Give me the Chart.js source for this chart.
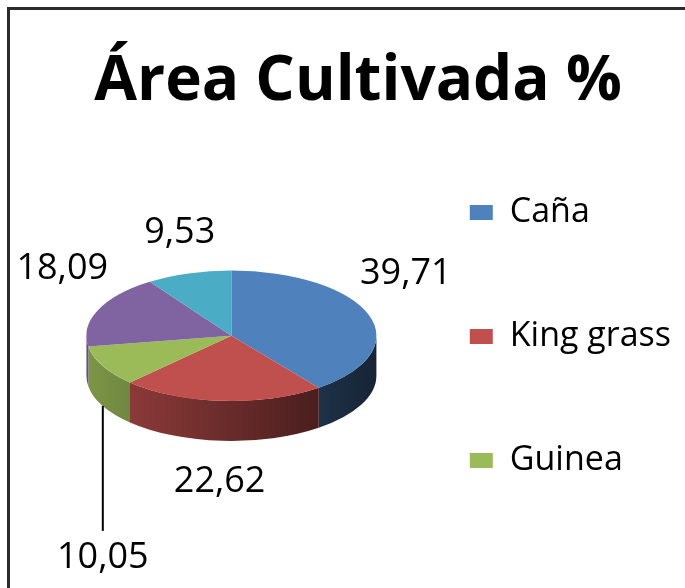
<!DOCTYPE html>
<html>
<head>
<meta charset="utf-8">
<script src="https://cdn.jsdelivr.net/npm/chart.js@4.4.1/dist/chart.umd.min.js"></script>
<style>
  html, body { margin: 0; padding: 0; background: #fff; overflow: hidden; }
  #frame { position: absolute; left: 7px; top: 7px; width: 700px; height: 600px; border: 3px solid #2b2b2b; }
  canvas { display: block; }
</style>
</head>
<body>
<div id="frame"><canvas id="myChart" width="700" height="600"></canvas></div>
<script>
const categories = ["Caña", "King grass", "Guinea", "Estrella", "Otros"];
const areaPct = [39.71, 22.62, 10.05, 18.09, 9.53];
const sliceColors = ["#4F81BD", "#C0504D", "#9BBB59", "#8064A2", "#4BACC6"];

// the legend in the original only has room for the first three entries
const legendShown = 3;

const fmt = (v) => v.toFixed(2).replace(".", ",");

const shade = (hex, f) => {
  const n = parseInt(hex.slice(1), 16);
  const r = Math.round(((n >> 16) & 255) * f);
  const g = Math.round(((n >> 8) & 255) * f);
  const b = Math.round((n & 255) * f);
  return `rgb(${r}, ${g}, ${b})`;
};

// squashes the pie into a tilted disc and draws the side wall + value labels
const pie3d = {
  id: "pie3d",
  geom(chart, opts) {
    const arcs = chart.getDatasetMeta(0).data;
    if (!arcs.length) return null;
    const { x, y, outerRadius } = arcs[0];
    return {
      arcs, x, y,
      cx: x + opts.shiftX,
      cy: y + opts.shiftY,
      rx: outerRadius,
      ry: outerRadius * opts.tilt,
    };
  },
  beforeDatasetsDraw(chart, args, opts) {
    const ctx = chart.ctx;
    ctx.save();
    const g = this.geom(chart, opts);
    if (!g) return;
    const { arcs, cx, cy, rx, ry } = g;

    arcs.forEach((arc, i) => {
      const col = sliceColors[i];
      for (const k of [-2 * Math.PI, 0, 2 * Math.PI]) {
        const lo = Math.max(arc.startAngle, k);
        const hi = Math.min(arc.endAngle, k + Math.PI);
        if (hi <= lo) continue;
        const grad = ctx.createLinearGradient(cx - rx, 0, cx + rx, 0);
        grad.addColorStop(0, shade(col, 0.8));
        grad.addColorStop(1, shade(col, 0.28));
        ctx.beginPath();
        ctx.ellipse(cx, cy, rx, ry, 0, lo, hi);
        ctx.ellipse(cx, cy + opts.depth, rx, ry, 0, hi, lo, true);
        ctx.closePath();
        ctx.fillStyle = grad;
        ctx.fill();
      }
    });

    ctx.translate(cx, cy);
    ctx.scale(1, opts.tilt);
    ctx.translate(-g.x, -g.y);
  },
  afterDatasetsDraw(chart, args, opts) {
    const ctx = chart.ctx;
    ctx.restore();
    const g = this.geom(chart, opts);
    if (!g) return;
    const { arcs, cx, cy, rx, ry } = g;

    ctx.save();
    ctx.font = opts.font;
    ctx.fillStyle = "#000";
    ctx.strokeStyle = "#000";
    ctx.lineWidth = 2;
    ctx.textAlign = "center";
    ctx.textBaseline = "middle";
    arcs.forEach((arc, i) => {
      const mid = (arc.startAngle + arc.endAngle) / 2;
      const c = Math.cos(mid), s = Math.sin(mid);
      const px = cx + rx * c;
      const py = cy + ry * s + (s > 0 ? opts.depth : 0);
      const text = fmt(areaPct[i]);
      if (i === opts.leaderIndex) {
        ctx.beginPath();
        ctx.moveTo(px, py);
        ctx.lineTo(px, py + opts.leaderLength);
        ctx.stroke();
        ctx.fillText(text, px, py + opts.leaderLength + 27);
      } else {
        // "outside end": text box sits just beyond the rim
        const hw = ctx.measureText(text).width / 2;
        const dx = c * hw * 0.85;
        const dy = Math.sign(s) * (opts.labelGap + opts.labelHalfHeight);
        ctx.fillText(text, px + dx, py + dy);
      }
    });
    ctx.restore();
  },
};

Chart.defaults.font.family = "'Open Sans', sans-serif";
Chart.defaults.color = "#000";

const chart = new Chart(document.getElementById("myChart"), {
  type: "pie",
  data: {
    labels: categories,
    datasets: [
      {
        data: areaPct,
        backgroundColor: sliceColors,
        borderWidth: 0,
        radius: 145,
        clip: false,
      },
    ],
  },
  options: {
    responsive: false,
    animation: false,
    events: [],
    layout: { padding: { left: 25, right: 29, top: 0, bottom: 20 } },
    plugins: {
      title: {
        display: true,
        text: "Área Cultivada %",
        font: { size: 62, weight: "bold", lineHeight: 0.75 },
        padding: { top: 49, bottom: 0 },
      },
      legend: {
        display: true,
        position: "right",
        align: "start",
        fullSize: false,
        labels: {
          font: { size: 34 },
          boxWidth: 23,
          boxHeight: 15,
          padding: 90,
          filter: (item) => item.index < legendShown,
        },
      },
      tooltip: { enabled: false },
      pie3d: {
        tilt: 0.45,
        depth: 40,
        shiftX: 24,
        shiftY: -12,
        labelGap: 28,
        labelHalfHeight: 13,
        leaderIndex: 2,
        leaderLength: 125,
        font: "36px 'Open Sans', sans-serif",
      },
    },
  },
  plugins: [pie3d],
});
</script>
</body>
</html>
